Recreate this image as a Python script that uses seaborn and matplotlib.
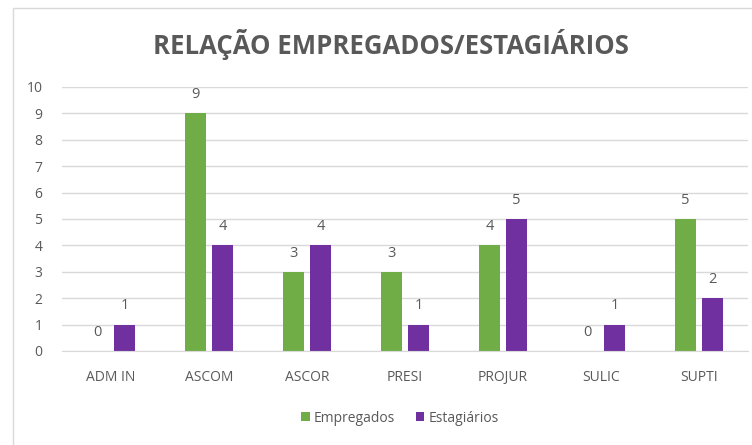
import matplotlib
matplotlib.use("Agg")
import matplotlib.pyplot as plt
import seaborn as sns
import pandas as pd
from matplotlib.patches import Rectangle

categories = ["ADM IN", "ASCOM", "ASCOR", "PRESI", "PROJUR", "SULIC", "SUPTI"]
empregados = [0, 9, 3, 3, 4, 0, 5]
estagiarios = [1, 4, 4, 1, 5, 1, 2]
series_names = ["Empregados", "Estagiários"]
colors = ["#70AD47", "#7030A0"]
title = "RELAÇÃO EMPREGADOS/ESTAGIÁRIOS"

df = pd.DataFrame({
    "cat": categories * 2,
    "val": empregados + estagiarios,
    "serie": [series_names[0]] * len(categories) + [series_names[1]] * len(categories),
})

sns.set_style("white")
plt.rcParams['font.family'] = ['Open Sans', 'DejaVu Sans']
txt = "#595959"

fig = plt.figure(figsize=(7.52, 4.45), dpi=100)
ax = fig.add_axes([62/752, 94/445, 686/752, 264/445])

sns.barplot(data=df, x="cat", y="val", hue="serie", palette=colors,
            width=0.55, gap=0.19, ax=ax, legend=True, saturation=1,
            edgecolor="none")

ax.set_ylim(0, 10)
ax.set_yticks(range(0, 11))
ax.set_xlim(-0.5, len(categories) - 0.5)
ax.grid(axis="y", color="#D9D9D9", linewidth=1)
ax.set_axisbelow(True)
for s in ["top", "right", "left"]:
    ax.spines[s].set_visible(False)
ax.spines["bottom"].set_color("#D9D9D9")
ax.tick_params(axis="both", length=0, labelsize=10, colors=txt)
ax.tick_params(axis="x", pad=14)
ax.tick_params(axis="y", pad=14)
ax.set_xlabel("")
ax.set_ylabel("")

for cont in ax.containers:
    ax.bar_label(cont, fmt="%d", padding=8, fontsize=10.5, color=txt)

handles, labels = ax.get_legend_handles_labels()
ax.legend(handles, labels, loc="center", bbox_to_anchor=(400/752, 1 - 418/445),
          bbox_transform=fig.transFigure, ncol=2, frameon=False, fontsize=10,
          labelcolor=txt, handlelength=0.6, handleheight=0.6, handletextpad=0.3,
          columnspacing=1.5)

fig.text(391/752, 1 - 45/445, title, ha="center", va="center",
         fontsize=18.5, fontweight="bold", color=txt)

fig.patches.append(Rectangle((13/752, -0.01), 1.0, 1 - 8/445 + 0.01,
                             transform=fig.transFigure, fill=False,
                             edgecolor="#D9D9D9", linewidth=1))

fig.savefig("out.png", dpi=100)
